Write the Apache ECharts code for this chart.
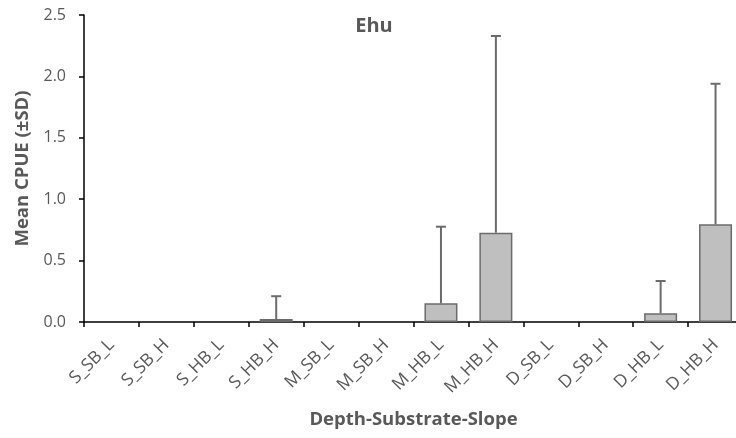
<!DOCTYPE html>
<html><head><meta charset="utf-8">
<script src="https://cdn.jsdelivr.net/npm/echarts@6/dist/echarts.min.js"></script>
<style>html,body{margin:0;padding:0;background:#fff}#c{width:736px;height:438px}</style>
</head><body><div id="c"></div>
<script>
var categories = ['S_SB_L','S_SB_H','S_HB_L','S_HB_H','M_SB_L','M_SB_H','M_HB_L','M_HB_H','D_SB_L','D_SB_H','D_HB_L','D_HB_H'];
var meanValues = [0, 0, 0, 0.024, 0, 0, 0.152, 0.727, 0, 0, 0.071, 0.795];
var sdValues   = [0, 0, 0, 0.186, 0, 0, 0.624, 1.602, 0, 0, 0.263, 1.145];
var yTicks = [0, 0.5, 1.0, 1.5, 2.0, 2.5];

var errData = [];
for (var i = 0; i < categories.length; i++) {
  if (sdValues[i] > 0) errData.push([i, meanValues[i], meanValues[i] + sdValues[i]]);
}
var barData = meanValues.map(function (v) { return v > 0 ? v : '-'; });
var font = '"Open Sans", "Noto Sans", sans-serif';
var chart = echarts.init(document.getElementById('c'));
chart.setOption({
  animation: false,
  title: {text: 'Ehu', left: 369, top: 11, textAlign: 'center',
    textStyle: {fontFamily: font, fontSize: 20, fontWeight: 'bold', color: '#595959'}},
  grid: {left: 84, top: 15, width: 659, height: 307, outerBoundsMode: 'none', containLabel: false},
  xAxis: {
    type: 'category', data: categories,
    name: 'Depth-Substrate-Slope', nameLocation: 'middle', nameGap: 88,
    nameTextStyle: {fontFamily: font, fontSize: 18.5, fontWeight: 'bold', color: '#595959'},
    axisLine: {lineStyle: {color: '#000', width: 1.5}},
    axisTick: {show: true, length: 5, lineStyle: {color: '#000', width: 1.5}},
    axisLabel: {rotate: 45, fontFamily: font, fontSize: 17.5, color: '#595959', margin: 20, interval: 0}
  },
  yAxis: {
    type: 'value', min: yTicks[0], max: yTicks[yTicks.length - 1], interval: 0.5,
    name: 'Mean CPUE (±SD)', nameLocation: 'middle', nameGap: 50,
    nameTextStyle: {fontFamily: font, fontSize: 18.5, fontWeight: 'bold', color: '#595959'},
    axisLine: {show: true, lineStyle: {color: '#000', width: 1.5}},
    axisTick: {show: true, length: 5, lineStyle: {color: '#000', width: 1.5}},
    splitLine: {show: false},
    axisLabel: {fontFamily: font, fontSize: 16, color: '#595959', margin: 18,
      formatter: function (v) { return v.toFixed(1); }}
  },
  series: [{
    type: 'bar', data: barData, barWidth: 33,
    itemStyle: {color: '#bfbfbf', borderColor: '#6b6b6b', borderWidth: 1.5}
  }, {
    type: 'custom', data: errData, z: 10,
    renderItem: function (params, api) {
      var x = api.value(0);
      var p1 = api.coord([x, api.value(1)]);
      var p2 = api.coord([x, api.value(2)]);
      var hw = 5;
      var st = {stroke: '#6b6b6b', lineWidth: 2};
      return {type: 'group', children: [
        {type: 'line', shape: {x1: p1[0], y1: p1[1], x2: p2[0], y2: p2[1]}, style: st},
        {type: 'line', shape: {x1: p2[0] - hw, y1: p2[1], x2: p2[0] + hw, y2: p2[1]}, style: st}
      ]};
    }
  }]
});
</script></body></html>
